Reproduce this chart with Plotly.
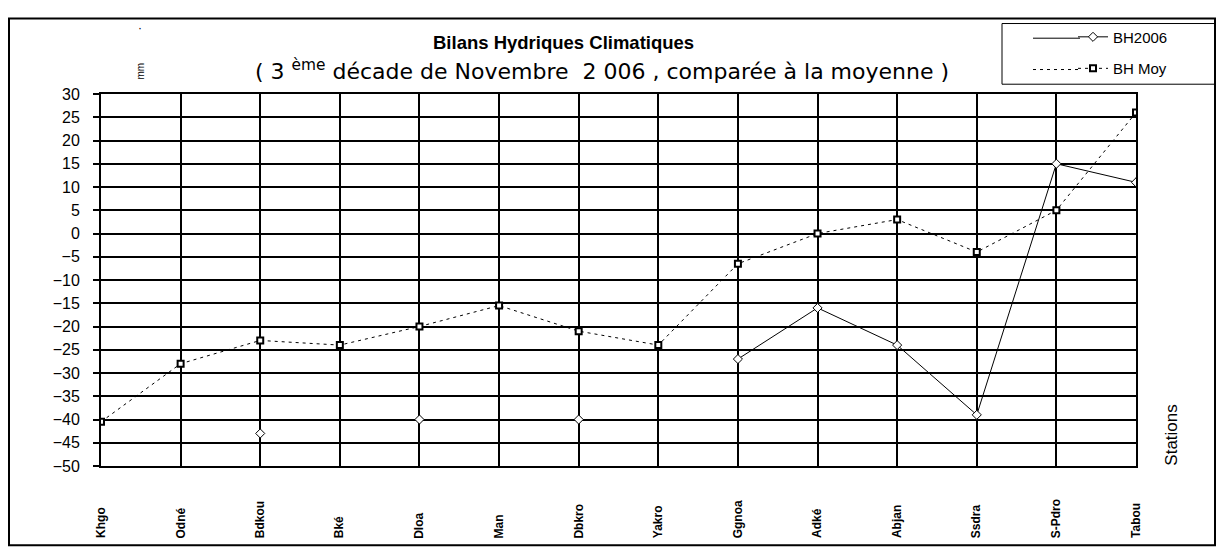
import plotly.graph_objects as go

# ---- data ----
stations = ["Khgo", "Odné", "Bdkou", "Bké", "Dloa", "Man", "Dbkro", "Yakro",
            "Ggnoa", "Adké", "Abjan", "Ssdra", "S-Pdro", "Tabou"]
bh2006 = [None, None, -43, None, -40, None, -40, None, -27, -16, -24, -39, 15, 11]
bh_moy = [-40.5, -28, -23, -24, -20, -15.5, -21, -24, -6.5, 0, 3, -4, 5, 26]
y_tick_vals = list(range(-50, 35, 5))

title_text = "<b>Bilans Hydriques Climatiques</b>"
subtitle_text = "( 3 <sup>ème</sup> décade de Novembre &nbsp;2 006 , comparée à la moyenne )"

# ---- geometry helpers (reference pixel -> paper) ----
OFF = 8                          # default body margin of the html page
W, H = 1224 - 2 * OFF, 556 - 2 * OFF
L, R, T, B = 101, 1136, 86, 466  # plot area in reference pixels


def px(x):
    return (x - L) / (R - L)


def py(y):
    return (B - y) / (B - T)


FONT = "Liberation Sans, Arial, sans-serif"

fig = go.Figure()
fig.add_trace(go.Scatter(
    x=stations, y=bh2006, name="BH2006", mode="lines+markers",
    connectgaps=False, legendgroup="a",
    line=dict(color="black", width=1),
    marker=dict(symbol="diamond", size=7, color="white",
                line=dict(color="black", width=1)),
))
fig.add_trace(go.Scatter(
    x=stations, y=bh_moy, name="BH Moy", mode="lines+markers",
    legendgroup="b",
    line=dict(color="black", width=1, dash="3px,4px"),
    marker=dict(symbol="square", size=6, color="white",
                line=dict(color="black", width=2)),
))

annotations = []
# x tick labels (rotated, bottom aligned)
for s in stations:
    annotations.append(dict(
        x=s, xref="x", y=py(542), yref="paper", text="<b>" + s + "</b>",
        showarrow=False, textangle=-90, xanchor="center", yanchor="bottom",
        font=dict(family=FONT, size=12, color="black"),
    ))


def note(x, y, text, size, family=FONT, angle=0):
    return dict(x=px(x), y=py(y), xref="paper", yref="paper", text=text,
                showarrow=False, textangle=angle, xanchor="center",
                yanchor="middle", font=dict(family=family, size=size, color="black"))


annotations += [
    note(563, 33, title_text, 18.5),
    note(602, 61, subtitle_text, 22, family="DejaVu Sans, sans-serif"),
    note(140, 63, "mm", 10, angle=-90),
    note(140, 19, "·", 12),
    note(1172, 435, "Stations", 17, angle=-90),
]

shapes = [
    # outer frame
    dict(type="rect", xref="paper", yref="paper", x0=px(9), x1=px(1215),
         y0=py(547), y1=py(9), line=dict(color="black", width=2)),
    # legend frame
    dict(type="rect", xref="paper", yref="paper", x0=px(1002), x1=px(1215),
         y0=py(76), y1=py(14), line=dict(color="black", width=1)),
    # longer legend line samples
    dict(type="line", xref="paper", yref="paper", x0=px(1033), x1=px(1080),
         y0=py(29), y1=py(29), line=dict(color="black", width=1)),
    dict(type="line", xref="paper", yref="paper", x0=px(1033), x1=px(1080),
         y0=py(61), y1=py(61), line=dict(color="black", width=1, dash="3px,4px")),
]

fig.update_layout(
    width=W, height=H,
    margin=dict(l=L - OFF, r=(OFF + W) - R, t=T - OFF, b=(OFF + H) - B),
    paper_bgcolor="white", plot_bgcolor="white",
    font=dict(family=FONT, color="black"),
    showlegend=True,
    legend=dict(x=px(1073), y=py(11), xanchor="left", yanchor="top",
                bgcolor="rgba(0,0,0,0)", borderwidth=0, tracegroupgap=9,
                traceorder="grouped",
                font=dict(family=FONT, size=15, color="black")),
    annotations=annotations,
    shapes=shapes,
    xaxis=dict(range=[0, len(stations) - 1], showticklabels=False,
               showgrid=True, gridcolor="black", gridwidth=2,
               showline=True, linecolor="black", linewidth=2, mirror=True,
               ticks="", zeroline=False, fixedrange=True),
    yaxis=dict(range=[-50, 30], tickvals=y_tick_vals,
               showgrid=True, gridcolor="black", gridwidth=2,
               showline=True, linecolor="black", linewidth=2, mirror=True,
               ticks="outside", ticklen=6, tickwidth=2, tickcolor="black",
               ticklabelstandoff=10, zeroline=False,
               tickfont=dict(family=FONT, size=16, color="black")),
)

fig.write_html("out.html")
